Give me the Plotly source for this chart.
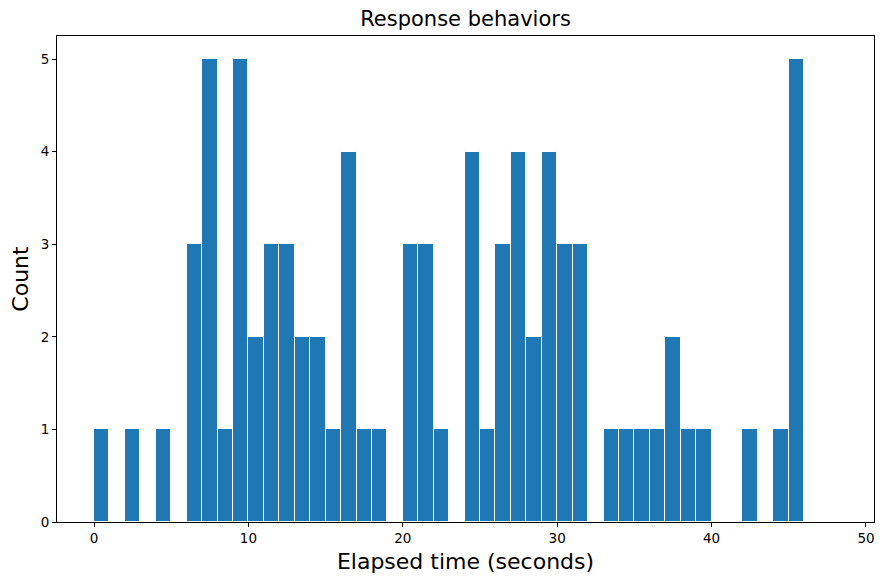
import plotly.graph_objects as go

bin_starts = list(range(0, 48))
counts = [1, 0, 1, 0, 1, 0, 3, 5, 1, 5,
          2, 3, 3, 2, 2, 1, 4, 1, 1, 0,
          3, 3, 1, 0, 4, 1, 3, 4, 2, 4,
          3, 3, 0, 1, 1, 1, 1, 2, 1, 1,
          0, 0, 1, 0, 1, 5, 0, 0]
x_ticks = [0, 10, 20, 30, 40, 50]
y_ticks = [0, 1, 2, 3, 4, 5]

fig = go.Figure()
fig.add_trace(go.Bar(
    x=[b + 0.5 for b in bin_starts],
    y=counts,
    width=[1.0] * len(bin_starts),
    marker=dict(color="#1f77b4", line=dict(color="white", width=1)),
    hoverinfo="x+y",
))

font = "DejaVu Sans, Liberation Sans, sans-serif"
fig.update_layout(
    width=884, height=578,
    margin=dict(l=49, r=18, t=28, b=64),
    paper_bgcolor="white", plot_bgcolor="white",
    showlegend=False,
    bargap=0,
    font=dict(family=font, color="black", size=13.5),
    title=dict(text="Response behaviors", x=0.5, xanchor="center",
               xref="paper", yref="container", y=1 - 11 / 578, yanchor="middle",
               font=dict(size=21, family=font, color="black")),
    xaxis=dict(range=[-2.4, 50.52], tickvals=x_ticks, automargin=False,
               ticks="outside", ticklen=4, tickcolor="black",
               showline=True, linecolor="black", linewidth=1, mirror=True,
               showgrid=False, zeroline=False,
               title=dict(text="Elapsed time (seconds)",
                          font=dict(size=22, family=font), standoff=8)),
    yaxis=dict(range=[0, 5.25], tickvals=y_ticks, automargin=False,
               ticks="outside", ticklen=4, tickcolor="black",
               showline=True, linecolor="black", linewidth=1, mirror=True,
               showgrid=False, zeroline=False,
               title=dict(text="Count", font=dict(size=22, family=font),
                          standoff=10)),
)

fig.write_html("out.html")
